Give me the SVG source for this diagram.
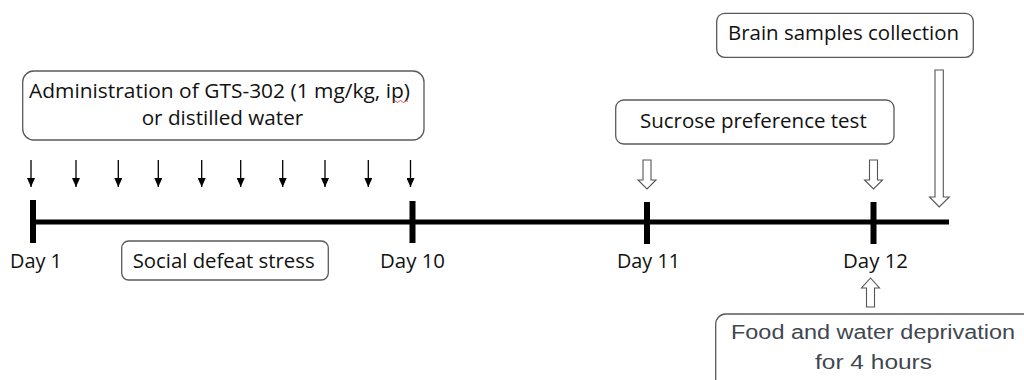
<svg xmlns="http://www.w3.org/2000/svg" width="1024" height="380" viewBox="0 0 1024 380">
<defs>
<style>
.box{fill:#fff;stroke:#595959;stroke-width:1.3}
.t{font-family:"Open Sans","Liberation Sans",sans-serif;font-size:19.5px;fill:#111}
.ta{font-family:"Liberation Sans",Arial,sans-serif;font-size:20px;fill:#3f4750}
.tick{stroke:#000;stroke-width:6}
.sa{stroke:#000;stroke-width:1.3}
.hollow{fill:#fff;stroke:#555;stroke-width:1.1}
</style>
<marker id="ah" markerWidth="9" markerHeight="8" refX="9" refY="4" orient="auto" markerUnits="userSpaceOnUse" viewBox="0 0 9 8"><path d="M0,0 L9,4 L0,8 Z" fill="#000"/></marker>
</defs>
<rect width="1024" height="380" fill="#fff"/>

<g id="timeline">
<line x1="33" y1="222" x2="949" y2="222" stroke="#000" stroke-width="5"/>
<line class="tick" x1="33" y1="200" x2="33" y2="243"/>
<line class="tick" x1="412.5" y1="201" x2="412.5" y2="243"/>
<line class="tick" x1="647" y1="202" x2="647" y2="244"/>
<line class="tick" x1="873.5" y1="202" x2="873.5" y2="244"/>
</g>

<g id="day-labels">
<text class="t" x="10" y="268" textLength="52" lengthAdjust="spacingAndGlyphs">Day 1</text>
<text class="t" x="380" y="268" textLength="65" lengthAdjust="spacingAndGlyphs">Day 10</text>
<text class="t" x="617" y="268" textLength="63" lengthAdjust="spacingAndGlyphs">Day 11</text>
<text class="t" x="843" y="268" textLength="65" lengthAdjust="spacingAndGlyphs">Day 12</text>
</g>

<g id="administration">
<rect class="box" x="22.7" y="71" width="401.3" height="69" rx="11"/>
<text class="t" x="29" y="98" textLength="381" lengthAdjust="spacingAndGlyphs">Administration of GTS-302 (1 mg/kg, ip)</text>
<path d="M393,101.5 q1.5,-2 3,0 t3,0 t3,0 t3,0 t3,0" fill="none" stroke="#e03030" stroke-width="0.8"/>
<text class="t" x="141.7" y="125" textLength="161.6" lengthAdjust="spacingAndGlyphs">or distilled water</text>
</g>

<g id="social-defeat">
<rect class="box" x="121.7" y="241" width="206.6" height="39" rx="7"/>
<text class="t" x="132.7" y="268" textLength="182" lengthAdjust="spacingAndGlyphs">Social defeat stress</text>
</g>

<g id="sucrose">
<rect class="box" x="615.7" y="100" width="278.3" height="44" rx="8"/>
<text class="t" x="640" y="128" textLength="226.7" lengthAdjust="spacingAndGlyphs">Sucrose preference test</text>
</g>

<g id="brain">
<rect class="box" x="716.7" y="13.3" width="256.6" height="44" rx="8"/>
<text class="t" x="728" y="40" textLength="231" lengthAdjust="spacingAndGlyphs">Brain samples collection</text>
</g>

<g id="food">
<rect class="box" x="715.7" y="314" width="330" height="90" rx="10"/>
<text class="ta" x="731" y="339" textLength="284" lengthAdjust="spacingAndGlyphs">Food and water deprivation</text>
<text class="ta" x="815" y="369" textLength="117" lengthAdjust="spacingAndGlyphs">for 4 hours</text>
</g>

<g id="connectors">
<line class="sa" x1="31" y1="160" x2="31" y2="187" marker-end="url(#ah)"/>
<line class="sa" x1="76" y1="160" x2="76" y2="187" marker-end="url(#ah)"/>
<line class="sa" x1="118.3" y1="160" x2="118.3" y2="187" marker-end="url(#ah)"/>
<line class="sa" x1="158.3" y1="160" x2="158.3" y2="187" marker-end="url(#ah)"/>
<line class="sa" x1="201.7" y1="160" x2="201.7" y2="187" marker-end="url(#ah)"/>
<line class="sa" x1="240.7" y1="160" x2="240.7" y2="187" marker-end="url(#ah)"/>
<line class="sa" x1="282.7" y1="160" x2="282.7" y2="187" marker-end="url(#ah)"/>
<line class="sa" x1="325" y1="160" x2="325" y2="187" marker-end="url(#ah)"/>
<line class="sa" x1="368.3" y1="160" x2="368.3" y2="187" marker-end="url(#ah)"/>
<line class="sa" x1="410.5" y1="160" x2="410.5" y2="187" marker-end="url(#ah)"/>
<path class="hollow" d="M643,160 H651 V180 H656 L647,189 L638,180 H643 Z"/>
<path class="hollow" d="M869.5,160 H877.5 V180 H882.5 L873.5,189 L864.5,180 H869.5 Z"/>
<path class="hollow" d="M935,70 H943.3 V197 H949.3 L939.2,207 L929.5,197 H935 Z"/>
<path class="hollow" d="M866.5,307 H874.5 V288 H879.5 L870.5,278 L861.5,288 H866.5 Z"/>
</g>
</svg>
